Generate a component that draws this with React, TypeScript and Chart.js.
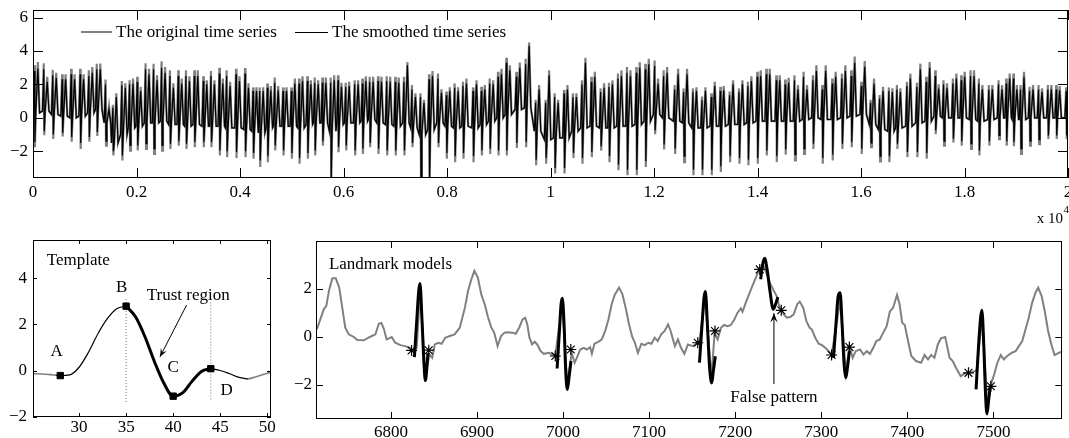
import React, { useEffect, useRef } from "react";
import { Chart, registerables } from "chart.js";

Chart.register(...registerables);

const SERIF = "'Liberation Serif', 'Times New Roman', Times, serif";
const GRAY = "#808080";
const FS = 17;

// ---------------- Top chart: original vs smoothed time series (per-beat extremes) ----------------
const beatPos = [
  32, 213, 387, 568, 742, 916, 1084, 1238, 1406, 1548,
  1722, 1871, 2019, 2180, 2335, 2490, 2651, 2812, 2961, 3122,
  3296, 3444, 3606, 3747, 3928, 4102, 4257, 4386, 4534, 4676,
  4837, 4998, 5146, 5307, 5449, 5597, 5758, 5899, 6048, 6221,
  6370, 6511, 6672, 6840, 7005, 7173, 7328, 7493, 7658, 7831,
  7992, 8153, 8314, 8508, 8669, 8830, 8991, 9152, 9345, 9525,
  9718, 9911, 10085, 10266, 10439, 10613, 10794, 10974, 11135, 11309,
  11483, 11663, 11837, 12017, 12191, 12404, 12577, 12758, 12932, 13112,
  13286, 13466, 13647, 13820, 14000, 14175, 14368, 14540, 14720, 14895,
  15076, 15256, 15449, 15636, 15816, 16010, 16190, 16364, 16544, 16699,
  16892, 17085, 17265, 17439, 17600, 17781, 17942, 18122, 18283, 18476,
  18663, 18811, 18950, 19088, 19262, 19436, 19616, 19777, 19970,
];
const origR = [
  3.14, 3.27, 2.88, 2.61, 2.94, 2.94, 2.84, 3.24, 2.29, 0.78,
  2.2, 2.25, 2.45, 3.27, 3.24, 3.39, 2.84, 2.84, 2.84, 2.84,
  2.49, 2.8, 3.0, 2.84, 2.94, 2.98, 1.82, 1.82, 2.06, 2.41,
  1.82, 1.82, 2.35, 2.49, 2.41, 2.41, 2.41, 2.55, 2.1, 2.25,
  2.35, 2.45, 2.49, 2.49, 2.45, 2.45, 1.96, 1.47, 2.6, 2.65,
  1.57, 2.06, 2.16, 1.82, 1.86, 2.35, 2.75, 3.59, 2.75, 3.53,
  1.08, 1.08, 1.47, 1.67, 1.47, 2.25, 2.45, 1.76, 2.1, 2.65,
  3.04, 3.04, 3.24, 3.43, 2.84, 1.96, 1.76, 1.76, 1.27, 1.47,
  1.86, 1.57, 1.76, 2.16, 2.75, 2.94, 2.55, 2.29, 2.55, 2.75,
  2.55, 1.96, 2.35, 2.65, 2.84, 2.16, 1.08, 1.37, 1.82, 1.96,
  2.16, 2.1, 2.45, 2.84, 2.25, 2.35, 2.55, 2.84, 2.35, 1.96,
  2.25, 2.35, 2.65, 1.96, 1.86, 1.96, 1.96, 1.96, 1.82,
];
const origS = [
  -1.76, -1.04, -1.27, -1.12, -1.43, -1.86, -1.43, -1.08, -1.67, -2.25,
  -2.55, -1.96, -1.96, -1.86, -2.16, -1.96, -1.86, -1.67, -1.86, -1.76,
  -1.76, -1.76, -2.25, -2.35, -2.41, -2.35, -2.45, -2.94, -2.65, -1.96,
  -2.25, -2.45, -2.75, -2.45, -2.25, -1.67, -3.8, -2.06, -1.96, -2.25,
  -2.16, -1.76, -2.16, -2.25, -2.25, -2.25, -1.76, -3.8, -3.8, -1.76,
  -2.45, -2.65, -2.45, -2.65, -2.25, -2.16, -2.25, -2.25, -1.8, -1.76,
  -2.84, -2.75, -3.33, -3.33, -2.41, -2.75, -2.35, -1.96, -2.65, -3.14,
  -3.43, -3.43, -2.94, -0.98, -1.9, -2.16, -2.65, -3.43, -3.43, -3.43,
  -3.24, -2.65, -2.75, -2.84, -2.75, -2.25, -2.65, -2.2, -2.55, -2.16,
  -1.86, -2.75, -2.55, -1.86, -1.76, -2.16, -1.76, -2.61, -2.65, -1.86,
  -2.35, -2.35, -2.45, -0.98, -1.67, -1.47, -1.67, -1.86, -2.25, -1.67,
  -1.27, -1.67, -1.7, -2.16, -1.67, -1.57, -1.27, -1.27, -1.27,
];
const origT = [
  3.33, 2.45, 2.69, 2.61, 2.61, 2.61, 3.04, 3.24, 0.69, 1.47,
  2.06, 2.35, 1.86, 2.94, 2.55, 3.04, 2.06, 2.35, 2.49, 2.84,
  2.25, 2.25, 2.35, 2.16, 2.49, 2.06, 1.82, 1.82, 1.9, 1.9,
  1.82, 2.35, 2.49, 2.25, 2.25, 2.41, 2.55, 2.1, 2.16, 2.25,
  2.49, 2.45, 2.45, 2.45, 2.41, 3.33, 1.47, 1.08, 2.8, 1.7,
  1.82, 1.82, 2.35, 2.25, 1.96, 2.25, 2.94, 3.14, 3.3, 4.51,
  1.96, 2.84, 1.08, 1.96, 1.47, 3.59, 2.75, 2.06, 2.25, 2.84,
  2.84, 3.33, 3.53, 2.35, 3.04, 2.94, 2.94, 1.82, 1.82, 2.16,
  1.9, 2.25, 2.25, 2.49, 2.84, 2.94, 2.55, 2.4, 1.96, 1.96,
  3.14, 3.14, 2.75, 3.14, 3.67, 3.39, 2.35, 1.86, 1.76, 1.76,
  2.65, 3.24, 3.33, 2.0, 2.06, 2.65, 2.75, 2.84, 1.96, 1.96,
  1.96, 2.65, 1.96, 2.75, 1.96, 1.76, 1.96, 1.9, 1.96,
];
const baseLevel = [
  0.3, 0.4, 0.2, 0.1, 0.0, 0.1, 0.3, 0.5, -0.3, -1.5,
  -1.0, -0.6, -0.5, -0.3, -0.3, -0.2, -0.4, -0.4, -0.5, -0.4,
  -0.5, -0.5, -0.5, -0.6, -0.6, -0.7, -0.8, -0.9, -0.6, -0.5,
  -0.5, -0.5, -0.6, -0.4, -0.3, -0.3, -0.8, -0.4, -0.3, -0.3,
  -0.2, -0.1, -0.3, -0.4, -0.5, -0.3, -0.6, -1.0, -0.7, -0.3,
  -0.5, -0.6, -0.5, -0.6, -0.4, -0.2, 0.0, 0.2, 0.5, 0.6,
  -0.8, -1.3, -1.2, -1.2, -0.8, -0.6, -0.5, -0.6, -0.6, -0.5,
  -0.5, -0.4, -0.2, 0.2, 0.0, -0.2, -0.3, -0.6, -0.6, -0.5,
  -0.5, -0.4, -0.4, -0.3, -0.2, -0.2, -0.2, -0.2, -0.2, -0.1,
  0.0, -0.1, -0.1, 0.0, 0.1, 0.2, -0.4, -0.7, -0.8, -0.6,
  -0.5, -0.3, -0.2, 0.1, 0.0, 0.0, 0.0, -0.1, -0.2, -0.1,
  0.0, 0.0, -0.1, -0.1, 0.0, 0.0, 0.0, 0.0, 0.0,
];
const smoothR = [
  2.8, 2.9, 2.55, 2.3, 2.6, 2.6, 2.5, 2.9, 2.0, 0.6,
  1.95, 2.0, 2.15, 2.9, 2.9, 3.0, 2.5, 2.5, 2.5, 2.5,
  2.2, 2.5, 2.65, 2.5, 2.6, 2.65, 1.6, 1.6, 1.8, 2.1,
  1.6, 1.6, 2.05, 2.2, 2.1, 2.1, 2.1, 2.25, 1.85, 2.0,
  2.05, 2.15, 2.2, 2.2, 2.15, 2.15, 1.7, 1.25, 2.3, 2.35,
  1.35, 1.8, 1.9, 1.6, 1.6, 2.05, 2.45, 3.3, 2.45, 3.2,
  0.9, 0.9, 1.25, 1.45, 1.25, 2.0, 2.15, 1.55, 1.85, 2.35,
  2.7, 2.7, 2.9, 3.1, 2.5, 1.7, 1.55, 1.55, 1.05, 1.25,
  1.6, 1.35, 1.55, 1.9, 2.45, 2.6, 2.25, 2.0, 2.25, 2.45,
  2.25, 1.7, 2.05, 2.35, 2.5, 1.9, 0.9, 1.15, 1.6, 1.7,
  1.9, 1.85, 2.15, 2.5, 2.0, 2.05, 2.25, 2.5, 2.05, 1.7,
  2.0, 2.05, 2.35, 1.7, 1.6, 1.7, 1.7, 1.7, 1.6,
];
const smoothS = [
  -1.45, -0.8, -1.0, -0.9, -1.15, -1.5, -1.15, -0.85, -1.4, -2.0,
  -2.25, -1.65, -1.65, -1.55, -1.85, -1.65, -1.55, -1.4, -1.55, -1.45,
  -1.45, -1.45, -1.95, -2.0, -2.05, -2.0, -2.1, -2.55, -2.3, -1.65,
  -1.95, -2.1, -2.4, -2.1, -1.95, -1.4, -3.7, -1.75, -1.65, -1.95,
  -1.85, -1.5, -1.85, -1.95, -1.95, -1.95, -1.5, -3.7, -3.7, -1.5,
  -2.1, -2.3, -2.1, -2.3, -1.95, -1.85, -1.95, -1.95, -1.5, -1.45,
  -2.5, -2.4, -3.0, -3.0, -2.1, -2.4, -2.05, -1.7, -2.3, -2.8,
  -3.1, -3.1, -2.6, -0.75, -1.6, -1.85, -2.3, -3.1, -3.1, -3.1,
  -2.9, -2.3, -2.4, -2.5, -2.4, -1.95, -2.3, -1.9, -2.2, -1.85,
  -1.55, -2.4, -2.2, -1.55, -1.45, -1.85, -1.5, -2.3, -2.3, -1.55,
  -2.05, -2.05, -2.1, -0.75, -1.4, -1.25, -1.4, -1.55, -1.95, -1.4,
  -1.05, -1.4, -1.45, -1.85, -1.4, -1.3, -1.05, -1.05, -1.05,
];
const smoothT = [
  2.95, 2.15, 2.4, 2.3, 2.3, 2.3, 2.7, 2.9, 0.5, 1.25,
  1.8, 2.05, 1.6, 2.6, 2.25, 2.7, 1.8, 2.05, 2.2, 2.5,
  2.0, 2.0, 2.05, 1.9, 2.2, 1.8, 1.6, 1.6, 1.65, 1.65,
  1.6, 2.05, 2.2, 2.0, 2.0, 2.1, 2.25, 1.85, 1.9, 2.0,
  2.2, 2.15, 2.15, 2.15, 2.1, 3.15, 1.25, 0.9, 2.5, 1.5,
  1.6, 1.6, 2.05, 2.0, 1.7, 2.0, 2.6, 2.85, 3.0, 4.3,
  1.7, 2.55, 0.9, 1.7, 1.25, 3.3, 2.45, 1.8, 2.0, 2.5,
  2.5, 3.0, 3.2, 2.05, 2.7, 2.6, 2.6, 1.6, 1.6, 1.9,
  1.65, 2.0, 2.0, 2.2, 2.5, 2.6, 2.25, 2.1, 1.7, 1.7,
  2.8, 2.8, 2.45, 2.8, 3.3, 3.05, 2.05, 1.6, 1.55, 1.55,
  2.35, 2.9, 3.0, 1.75, 1.8, 2.35, 2.45, 2.5, 1.7, 1.7,
  1.7, 2.35, 1.7, 2.45, 1.7, 1.55, 1.7, 1.65, 1.7,
];

// ---------------- Bottom-left: template ----------------
const templateX = [25, 26, 27, 27.5, 28, 29, 30, 31, 32, 33, 34, 35, 36, 37, 38, 39, 40, 41, 42, 43, 44, 45, 46, 47, 48, 49, 50, 50.5];
const templateY = [-0.13, -0.14, -0.17, -0.19, -0.21, -0.18, 0.15, 0.8, 1.6, 2.25, 2.68, 2.79, 2.33, 1.47, 0.4, -0.53, -1.1, -0.96, -0.46, -0.03, 0.09, 0.01, -0.13, -0.29, -0.36, -0.24, -0.11, -0.07];
const landmarkX = [28, 35, 40, 44];
const guideX = [35, 44];
const guideTop = [3.1, 2.95];
const guideBottom = [-1.4, -1.3];

// ---------------- Bottom-right: landmark models ----------------
const ecgX = [
  6714, 6718, 6722, 6725, 6728, 6732, 6736, 6740, 6743.5, 6747, 6751, 6757, 6761, 6768.5, 6774, 6778, 6782, 6786, 6789, 6792,
  6795, 6801, 6805, 6811, 6816.5, 6822, 6826, 6830, 6834, 6840, 6845, 6848, 6851, 6855, 6859, 6863, 6868.5, 6874, 6880, 6886,
  6889.6, 6893.5, 6897, 6901, 6905, 6909, 6913, 6916.5, 6920, 6924, 6928, 6932, 6935, 6941, 6945, 6949, 6953, 6956, 6958.5, 6961,
  6964, 6967, 6970, 6974, 6977.7, 6983.5, 6987, 6991, 6999, 7005, 7010, 7013.5, 7016, 7020, 7024, 7027.7, 7031.5, 7033.5, 7036.5, 7041,
  7045, 7049, 7052.7, 7056.5, 7060, 7065, 7069, 7072.7, 7076.7, 7080.4, 7083.5, 7087, 7091, 7095, 7099, 7102.7, 7106.5, 7110, 7114, 7118,
  7122, 7125, 7127.7, 7130, 7133.5, 7137, 7141, 7145, 7151, 7154.6, 7158, 7165, 7172.5, 7176, 7179.6, 7183.5, 7187, 7191, 7195, 7199,
  7202.7, 7206.5, 7208.5, 7212.3, 7216, 7220, 7224, 7227.7, 7233, 7241, 7245, 7248, 7251, 7256.5, 7260, 7264, 7268, 7272, 7275, 7279,
  7282.7, 7286.5, 7289, 7293, 7297, 7300.8, 7304.6, 7308.5, 7312, 7322, 7328.5, 7332.7, 7336.5, 7340, 7345, 7349, 7353, 7356.5, 7360.4, 7364,
  7368, 7372, 7376, 7379.6, 7383.5, 7388, 7391, 7394, 7397, 7400.8, 7404.6, 7410, 7416, 7420, 7424, 7427.7, 7431.5, 7435.4, 7439, 7444,
  7449, 7452.7, 7456.5, 7462, 7466, 7471, 7476, 7480.4, 7487, 7493, 7497, 7500.8, 7504.6, 7508.5, 7512, 7516, 7521, 7525.8, 7529.6, 7533.5,
  7537.3, 7541, 7545, 7548.8, 7552, 7556, 7559.6, 7563.5, 7567.3, 7571, 7576, 7580.6,
];
const ecgY = [
  0.31, 0.72, 1.14, 1.28, 1.9, 2.43, 2.43, 2.04, 1.21, 0.375, 0.1, -0.01, -0.14, -0.15, -0.04, 0.03, 0.1, 0.54, 0.57, 0.31,
  -0.11, -0.01, -0.25, -0.35, -0.39, -0.46, -0.57, -0.46, 2.0, -1.6, -0.74, -0.875, -0.32, -0.25, -0.29, -0.04, 0.03, 0.1, 0.375, 1.21,
  1.9, 2.39, 2.74, 2.46, 1.76, 1.35, 0.79, 0.4, 0.17, -0.39, 0.03, 0.17, 0.19, 0.17, 0.125, 0.375, 0.72, 0.79, 0.51, -0.04,
  -0.32, -0.21, -0.32, -0.6, -0.71, -0.67, -0.74, -0.76, 1.4, -2.0, -0.67, -1.08, -0.875, -0.53, -0.46, -0.53, -0.43, -0.71, -0.29, -0.21,
  -0.11, 0.24, 0.72, 1.35, 1.74, 2.04, 1.76, 1.21, 0.51, -0.01, -0.25, -0.67, -0.29, -0.35, -0.25, -0.29, -0.04, -0.18, 0.1, 0.24,
  0.51, 0.24, -0.11, -0.39, -0.11, -0.46, -0.71, -0.32, -0.39, -0.29, -0.3, 1.6, -1.7, 0.15, -0.11, 0.375, 0.49, 0.44, 0.49, 0.72,
  1.0, 1.18, 1.04, 1.42, 1.76, 2.11, 2.46, 2.8, 2.95, 2.18, 1.9, 1.7, 1.3, 0.93, 0.79, 0.82, 0.93, 1.35, 1.46, 1.21,
  0.65, 0.375, 0.31, -0.04, -0.29, -0.35, -0.46, -0.6, -0.74, 1.5, -1.5, -0.39, -0.875, -0.6, -0.53, -0.74, -0.6, -0.71, -0.46, -0.18,
  -0.11, 0.17, 0.44, 1.04, 1.21, 1.74, 1.35, 0.58, 0.49, -0.18, -0.8, -1.01, -1.08, -0.76, -0.94, -0.76, -0.875, -0.32, -0.07, -0.01,
  -0.875, -1.01, -1.29, -1.64, -1.54, -1.5, -1.46, -1.4, 0.8, -2.9, -1.99, -1.57, -1.08, -0.76, -0.94, -0.8, -0.67, -0.6, -0.39, -0.18,
  0.31, 0.79, 1.42, 1.83, 2.04, 1.69, 1.07, 0.24, -0.32, -0.76, -0.67, -0.6,
];
const modelSegX = [
  [6827.3, 6830, 6832.3, 6833.8, 6836.2, 6838.5, 6840, 6841.5, 6843],
  [6993.1, 6995.8, 6997.7, 6999.2, 7001.2, 7003.1, 7005, 7006.9, 7009.2],
  [7158.5, 7161.5, 7163.8, 7165.4, 7167.7, 7170, 7172.7, 7174.6, 7176.9],
  [7229.6, 7231.9, 7234.2, 7237.3, 7240.4, 7244.2, 7246.9, 7249.6],
  [7314.2, 7317.3, 7319.6, 7321.9, 7324.2, 7326.5, 7328.5, 7330.4, 7332.7],
  [7479.8, 7482.8, 7485.1, 7486.6, 7488.9, 7490.5, 7492.4, 7494.3, 7496.2],
];
const modelSegY = [
  [-0.85, 0.65, 1.9, 2.21, 0.65, -1.15, -1.82, -1.43, -0.67],
  [-1.32, 0.24, 1.35, 1.6, 0.51, -1.43, -2.19, -1.71, -1.01],
  [-1.08, 0.51, 1.63, 1.88, 0.51, -1.15, -1.92, -1.43, -0.81],
  [2.39, 3.01, 3.26, 2.74, 1.9, 1.14, 1.35, 1.65],
  [-0.875, 0.65, 1.69, 1.83, 0.51, -1.15, -1.71, -1.29, -0.6],
  [-2.19, -0.32, 0.79, 1.1, -0.46, -2.12, -3.21, -2.68, -2.06],
];
const starX = [6824, 6844, 6991, 7009, 7156.5, 7176.5, 7228.5, 7253.5, 7312, 7332.7, 7471, 7497];
const starY = [-0.57, -0.56, -0.8, -0.53, -0.25, 0.24, 2.8, 1.1, -0.76, -0.43, -1.5, -2.06];

// ---------------- helpers ----------------
function pts(xs: number[], ys: number[]) {
  return xs.map((x, i) => ({ x, y: ys[i] }));
}
function slice(xs: number[], ys: number[], from: number, to: number) {
  const out: { x: number; y: number }[] = [];
  xs.forEach((x, i) => { if (x >= from && x <= to) out.push({ x, y: ys[i] }); });
  return out;
}
function beatSeries(R: number[], S: number[], T: number[]) {
  const out: { x: number; y: number }[] = [];
  for (let i = 0; i < beatPos.length; i++) {
    const p = beatPos[i];
    const b = baseLevel[i];
    out.push({ x: p - 30, y: b }, { x: p - 5, y: R[i] }, { x: p + 5, y: S[i] }, { x: p + 22, y: b }, { x: p + 62, y: T[i] }, { x: p + 95, y: b });
  }
  return out;
}
const minus = (v: number) => String(v).replace("-", "\u2212");

function axisX(min: number, max: number, step: number, fmt: (v: number) => string, height: number, pad: number) {
  return {
    type: "linear", min, max,
    grid: { display: false, drawTicks: false }, border: { display: false },
    ticks: { stepSize: step, autoSkip: false, maxRotation: 0, minRotation: 0, includeBounds: false, padding: pad, color: "#000", font: { family: SERIF, size: FS }, callback: (v: any) => fmt(Number(v)) },
    afterFit: (s: any) => { s.height = height; s.paddingLeft = 0; s.paddingRight = 0; },
  };
}
function axisY(min: number, max: number, step: number, width: number, pad: number) {
  return {
    type: "linear", min, max,
    grid: { display: false, drawTicks: false }, border: { display: false },
    ticks: { stepSize: step, autoSkip: false, includeBounds: false, padding: pad, color: "#000", font: { family: SERIF, size: FS }, callback: (v: any) => minus(Number(v)) },
    afterFit: (s: any) => { s.width = width; s.paddingTop = 0; s.paddingBottom = 0; },
  };
}

const framePlugin = {
  id: "frame",
  afterDatasetsDraw(chart: any, _a: any, opts: any) {
    const { ctx, chartArea } = chart;
    const { left, right, top, bottom } = chartArea;
    const tl = opts.tick || 5;
    ctx.save();
    ctx.strokeStyle = "#000";
    ctx.lineWidth = 1;
    ctx.strokeRect(Math.round(left) + 0.5, Math.round(top) + 0.5, Math.round(right - left) - 1, Math.round(bottom - top) - 1);
    ctx.beginPath();
    chart.scales.x.ticks.forEach((t: any) => {
      const px = Math.round(chart.scales.x.getPixelForValue(t.value)) + 0.5;
      ctx.moveTo(px, bottom); ctx.lineTo(px, bottom - tl);
      ctx.moveTo(px, top); ctx.lineTo(px, top + tl);
    });
    chart.scales.y.ticks.forEach((t: any) => {
      const py = Math.round(chart.scales.y.getPixelForValue(t.value)) + 0.5;
      ctx.moveTo(left, py); ctx.lineTo(left + tl, py);
      ctx.moveTo(right, py); ctx.lineTo(right - tl, py);
    });
    ctx.stroke();
    ctx.restore();
  },
};

function arrow(ctx: CanvasRenderingContext2D, x1: number, y1: number, x2: number, y2: number, head: number) {
  ctx.beginPath(); ctx.moveTo(x1, y1); ctx.lineTo(x2, y2); ctx.stroke();
  const a = Math.atan2(y2 - y1, x2 - x1);
  ctx.beginPath();
  ctx.moveTo(x2, y2);
  ctx.lineTo(x2 - head * Math.cos(a - 0.38), y2 - head * Math.sin(a - 0.38));
  ctx.lineTo(x2 - head * 0.55 * Math.cos(a), y2 - head * 0.55 * Math.sin(a));
  ctx.lineTo(x2 - head * Math.cos(a + 0.38), y2 - head * Math.sin(a + 0.38));
  ctx.closePath(); ctx.fill();
}

const notesPlugin = {
  id: "notes",
  afterDraw(chart: any, _a: any, opts: any) {
    const ctx = chart.ctx as CanvasRenderingContext2D;
    const xs = chart.scales.x, ys = chart.scales.y;
    ctx.save();
    (opts.lines || []).forEach((l: any) => {
      ctx.strokeStyle = l.color; ctx.lineWidth = l.width;
      ctx.beginPath(); ctx.moveTo(l.x1, l.y1); ctx.lineTo(l.x2, l.y2); ctx.stroke();
    });
    (opts.arrows || []).forEach((a: any) => {
      ctx.strokeStyle = "#000"; ctx.fillStyle = "#000"; ctx.lineWidth = 1;
      arrow(ctx, xs.getPixelForValue(a.x1), ys.getPixelForValue(a.y1), xs.getPixelForValue(a.x2), ys.getPixelForValue(a.y2), a.head || 9);
    });
    ctx.fillStyle = "#000";
    (opts.texts || []).forEach((t: any) => {
      ctx.font = `${t.size || FS}px ${SERIF}`;
      ctx.textAlign = t.align || "center";
      ctx.textBaseline = t.baseline || "middle";
      const x = t.pixel ? t.x : xs.getPixelForValue(t.x);
      const y = t.pixel ? t.y : ys.getPixelForValue(t.y);
      ctx.fillText(t.text, x, y);
    });
    ctx.restore();
  },
};

const common = {
  responsive: false,
  maintainAspectRatio: false,
  animation: false,
  events: [],
  elements: { point: { radius: 0 } },
};

function buildTop(): any {
  return {
    type: "line",
    data: {
      datasets: [
        { label: "The smoothed time series", data: beatSeries(smoothR, smoothS, smoothT), borderColor: "#000", borderWidth: 1.2, pointRadius: 0, tension: 0, order: 1, clip: 0 },
        { label: "The original time series", data: beatSeries(origR, origS, origT), borderColor: GRAY, borderWidth: 2.2, pointRadius: 0, tension: 0, order: 2, clip: 0 },
      ],
    },
    options: {
      ...common,
      layout: { padding: { top: 10, right: 1, left: 0, bottom: 0 } },
      scales: {
        x: axisX(0, 20000, 2000, (v) => String(Math.round(v / 1000) / 10), 54, 4),
        y: axisY(-3.6, 6.45, 2, 33, 5),
      },
      plugins: {
        legend: { display: false }, tooltip: { enabled: false },
        frame: { tick: 10 },
        notes: {
          lines: [
            { x1: 81, y1: 32, x2: 112, y2: 32, color: GRAY, width: 2 },
            { x1: 295, y1: 32.5, x2: 328, y2: 32.5, color: "#000", width: 1 },
          ],
          texts: [
            { pixel: true, x: 116, y: 33, text: "The original time series", align: "left" },
            { pixel: true, x: 332, y: 33, text: "The smoothed time series", align: "left" },
            { pixel: true, x: 1063, y: 223, text: "x 10", align: "right", baseline: "alphabetic", size: 15 },
            { pixel: true, x: 1063.5, y: 213, text: "4", align: "left", baseline: "alphabetic", size: 11 },
          ],
        },
      },
    },
    plugins: [framePlugin, notesPlugin],
  };
}

function buildTemplate(): any {
  const thin = { borderColor: "#000", borderWidth: 1.2, pointRadius: 0, cubicInterpolationMode: "monotone", clip: 0 };
  const grayL = { borderColor: GRAY, borderWidth: 1.6, pointRadius: 0, cubicInterpolationMode: "monotone", clip: 0 };
  const marks = landmarkX.map((x) => ({ x, y: templateY[templateX.indexOf(x)] }));
  return {
    type: "line",
    data: {
      datasets: [
        { data: marks, showLine: false, pointStyle: "rect", pointRadius: 4.5, backgroundColor: "#000", borderColor: "#000", order: 0 },
        { data: slice(templateX, templateY, 35, 44), borderColor: "#000", borderWidth: 3, pointRadius: 0, cubicInterpolationMode: "monotone", order: 1, clip: 0 },
        { data: slice(templateX, templateY, 27.5, 35), ...thin, order: 2 },
        { data: slice(templateX, templateY, 44, 48), ...thin, order: 2 },
        { data: slice(templateX, templateY, 25, 27.5), ...grayL, order: 3 },
        { data: slice(templateX, templateY, 48, 50.5), ...grayL, order: 3 },
        ...guideX.map((gx, i) => ({ data: [{ x: gx, y: guideTop[i] }, { x: gx, y: guideBottom[i] }], borderColor: "#777", borderWidth: 1, borderDash: [1, 2], pointRadius: 0, order: 4 })),
      ],
    },
    options: {
      ...common,
      layout: { padding: { top: 8, right: 19, left: 0, bottom: 0 } },
      scales: {
        x: axisX(25.1, 50.4, 5, (v) => String(v), 21, 0),
        y: axisY(-2, 5.65, 2, 33, 6),
      },
      plugins: {
        legend: { display: false }, tooltip: { enabled: false },
        frame: { tick: 4 },
        notes: {
          arrows: [{ x1: 41.43, y1: 2.84, x2: 38.6, y2: 0.6, head: 9 }],
          texts: [
            { x: 26.56, y: 4.75, text: "Template", align: "left" },
            { x: 27.62, y: 0.82, text: "A" },
            { x: 34.53, y: 3.59, text: "B" },
            { x: 40.01, y: 0.12, text: "C" },
            { x: 45.68, y: -0.86, text: "D" },
            { x: 41.6, y: 3.27, text: "Trust region" },
          ],
        },
      },
    },
    plugins: [framePlugin, notesPlugin],
  };
}

function buildLandmark(): any {
  return {
    type: "line",
    data: {
      datasets: [
        { data: pts(starX, starY), showLine: false, pointStyle: "star", pointRadius: 5.5, borderColor: "#000", borderWidth: 1.2, backgroundColor: "#000", order: 0 },
        ...modelSegX.map((sx, i) => ({ data: pts(sx, modelSegY[i]), borderColor: "#000", borderWidth: 3, pointRadius: 0, cubicInterpolationMode: "monotone", order: 1, clip: 0 })),
        { data: pts(ecgX, ecgY), borderColor: GRAY, borderWidth: 2, pointRadius: 0, tension: 0, order: 2, clip: 0 },
      ],
    },
    options: {
      ...common,
      layout: { padding: { top: 9, right: 1, left: 0, bottom: 0 } },
      scales: {
        x: axisX(6713, 7580, 100, (v) => String(v), 19, 3),
        y: axisY(-3.42, 3.98, 2, 26, 4),
      },
      plugins: {
        legend: { display: false }, tooltip: { enabled: false },
        frame: { tick: 7 },
        notes: {
          arrows: [{ x1: 7245, y1: -1.97, x2: 7245, y2: 0.98, head: 10 }],
          texts: [
            { x: 6728, y: 3.02, text: "Landmark models", align: "left" },
            { x: 7245, y: -2.52, text: "False pattern" },
          ],
        },
      },
    },
    plugins: [framePlugin, notesPlugin],
  };
}

function ChartCanvas(props: { left: number; top: number; width: number; height: number; build: () => any }) {
  const ref = useRef<HTMLCanvasElement>(null);
  useEffect(() => {
    const chart = new Chart(ref.current as HTMLCanvasElement, props.build());
    return () => chart.destroy();
  }, []);
  return (
    <canvas
      ref={ref}
      width={props.width}
      height={props.height}
      style={{ position: "absolute", left: props.left, top: props.top, width: props.width, height: props.height }}
    />
  );
}

export default function App() {
  return (
    <div style={{ position: "absolute", left: 0, top: 0, width: 1069, height: 438, background: "#fff", overflow: "hidden" }}>
      <ChartCanvas left={0} top={0} width={1069} height={232} build={buildTop} />
      <ChartCanvas left={0} top={232} width={290} height={206} build={buildTemplate} />
      <ChartCanvas left={290} top={232} width={779} height={206} build={buildLandmark} />
    </div>
  );
}
